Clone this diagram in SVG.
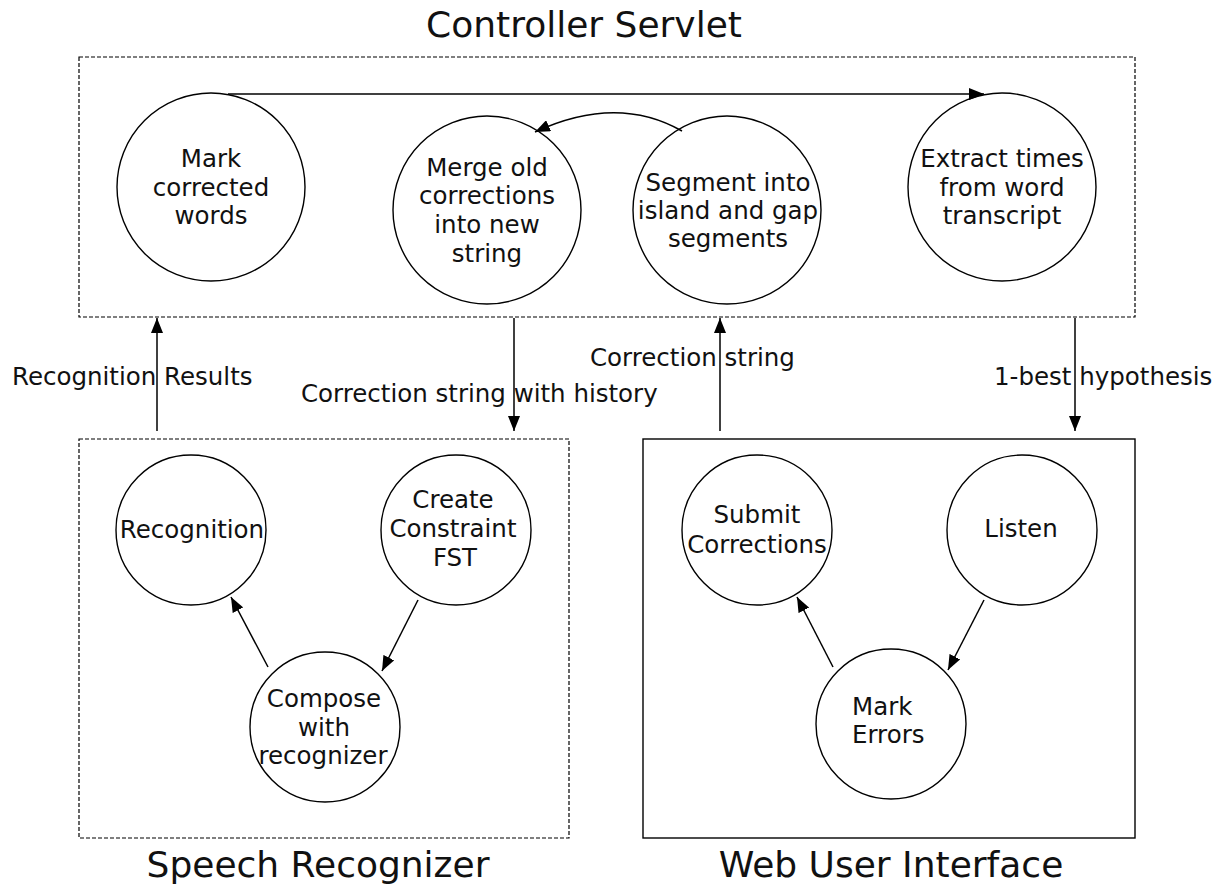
<svg xmlns="http://www.w3.org/2000/svg" width="1225" height="888" viewBox="0 0 1225 888">
<style>
text{font-family:"DejaVu Sans","Liberation Sans",sans-serif;fill:#111;}
.title{font-size:36px;text-anchor:middle;}
.lbl{font-size:24.5px;}
.nt{font-size:24.5px;text-anchor:middle;}
.node{fill:#fff;stroke:#000;stroke-width:1.4;}
.dbox{fill:none;stroke:#000;stroke-width:1.2;stroke-dasharray:4 2;}
.sbox{fill:none;stroke:#000;stroke-width:1.4;}
.edge{fill:none;stroke:#000;stroke-width:1.5;marker-end:url(#ah);}
</style>
<defs>
<marker id="ah" markerUnits="userSpaceOnUse" markerWidth="16" markerHeight="12" refX="15" refY="6" orient="auto">
<path d="M0,0 L15,6 L0,12 z" fill="#000"/>
</marker>
</defs>
<rect width="1225" height="888" fill="#fff"/>

<g id="controller-servlet">
<rect class="dbox" x="79" y="57" width="1056" height="260"/>
<text class="title" x="584" y="37">Controller Servlet</text>
</g>
<g id="speech-recognizer">
<rect class="dbox" x="79" y="439" width="490" height="399"/>
<text class="title" x="318" y="877">Speech Recognizer</text>
</g>
<g id="web-user-interface">
<rect class="sbox" x="643" y="439" width="492" height="399"/>
<text class="title" x="891" y="877">Web User Interface</text>
</g>

<g id="mark-corrected-words">
<circle class="node" cx="211" cy="187" r="94"/>
<text class="nt" x="211" y="167">Mark</text>
<text class="nt" x="211" y="196">corrected</text>
<text class="nt" x="211" y="224">words</text>
</g>
<g id="merge-old-corrections">
<circle class="node" cx="487" cy="210" r="94"/>
<text class="nt" x="487" y="176">Merge old</text>
<text class="nt" x="487" y="204">corrections</text>
<text class="nt" x="487" y="233">into new</text>
<text class="nt" x="487" y="262">string</text>
</g>
<g id="segment-island-gap">
<circle class="node" cx="727" cy="210" r="94"/>
<text class="nt" x="728" y="191">Segment into</text>
<text class="nt" x="728" y="219">island and gap</text>
<text class="nt" x="728" y="247">segments</text>
</g>
<g id="extract-times">
<circle class="node" cx="1002" cy="187" r="94"/>
<text class="nt" x="1002" y="167">Extract times</text>
<text class="nt" x="1002" y="196">from word</text>
<text class="nt" x="1002" y="224">transcript</text>
</g>

<g id="recognition">
<circle class="node" cx="191" cy="530" r="75"/>
<text class="nt" x="192" y="538">Recognition</text>
</g>
<g id="create-constraint-fst">
<circle class="node" cx="456" cy="530" r="75"/>
<text class="nt" x="453" y="508">Create</text>
<text class="nt" x="453" y="537">Constraint</text>
<text class="nt" x="455" y="566">FST</text>
</g>
<g id="compose-with-recognizer">
<circle class="node" cx="325" cy="727" r="75"/>
<text class="nt" x="324" y="707">Compose</text>
<text class="nt" x="324" y="736">with</text>
<text class="nt" x="323" y="764">recognizer</text>
</g>

<g id="submit-corrections">
<circle class="node" cx="757" cy="530" r="75"/>
<text class="nt" x="757" y="523">Submit</text>
<text class="nt" x="757" y="553">Corrections</text>
</g>
<g id="listen">
<circle class="node" cx="1022" cy="530" r="75"/>
<text class="nt" x="1021" y="537">Listen</text>
</g>
<g id="mark-errors">
<circle class="node" cx="891" cy="724" r="75"/>
<text class="lbl" x="852" y="715">Mark</text>
<text class="lbl" x="852" y="743">Errors</text>
</g>

<g id="connectors">
<path class="edge" d="M228,94 L984,94"/>
<path class="edge" d="M682,131 Q617,94 535,132"/>
<path class="edge" d="M157,431 L157,318"/>
<path class="edge" d="M514,318 L514,431"/>
<path class="edge" d="M720,431 L720,318"/>
<path class="edge" d="M1075,318 L1075,431"/>
<path class="edge" d="M268,667 L231,597"/>
<path class="edge" d="M418,600 L382,671"/>
<path class="edge" d="M833,667 L797,597"/>
<path class="edge" d="M984,600 L948,670"/>
<text class="lbl" x="12" y="385">Recognition Results</text>
<text class="lbl" x="301" y="402">Correction string with history</text>
<text class="lbl" x="590" y="366">Correction string</text>
<text class="lbl" x="994" y="385">1-best hypothesis</text>
</g>
</svg>
